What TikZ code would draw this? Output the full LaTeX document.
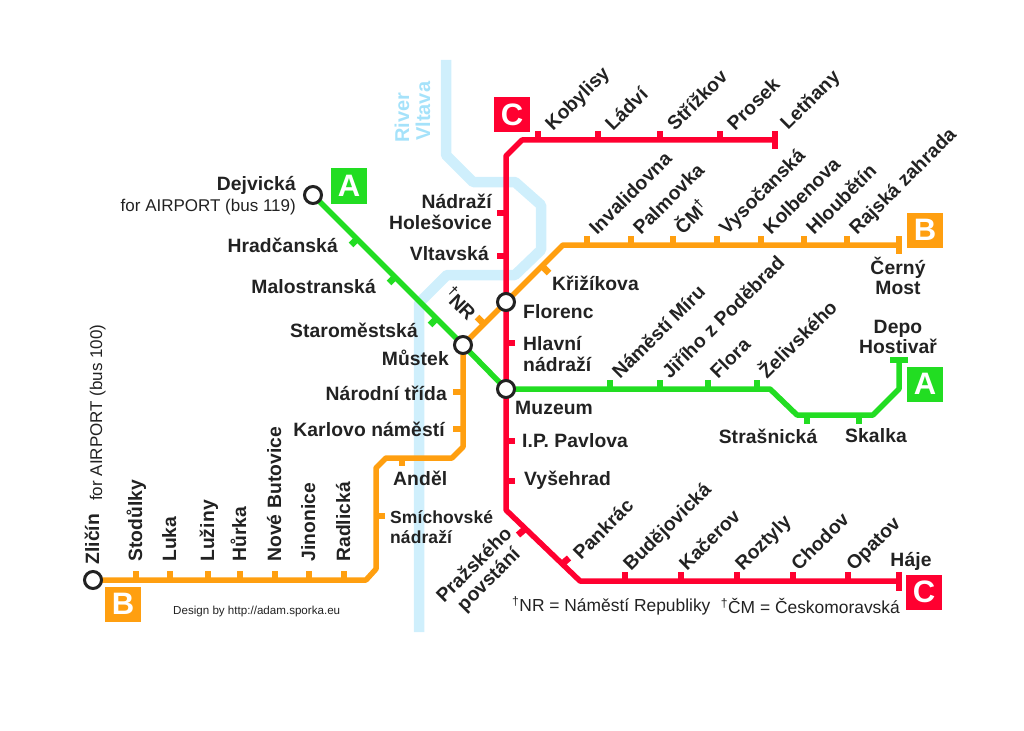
\documentclass[tikz,border=0pt]{standalone}
\usepackage{fontspec}
\setmainfont{Liberation Sans}
\newfontfamily\stnfont[LetterSpace=0.5]{Liberation Sans}
\usepackage{xcolor}
\definecolor{lineA}{HTML}{22DD22}
\definecolor{lineB}{HTML}{FF9F10}
\definecolor{lineC}{HTML}{FF0030}
\definecolor{river}{HTML}{CFEFFC}
\definecolor{rivertext}{HTML}{A5E2FA}
\definecolor{ink}{HTML}{222222}
\tikzset{
  stnlabel/.style={inner sep=0pt, text=ink, font=\fontsize{19.3}{20.5}\selectfont\stnfont\bfseries},
  diaglabel/.style={stnlabel, rotate=45, anchor=base west},
  uplabel/.style={stnlabel, rotate=90, anchor=base west},
  smalllabel/.style={inner sep=0pt, text=ink, font=\fontsize{17}{19}\selectfont},
  notelabel/.style={inner sep=0pt, text=ink, font=\fontsize{17.4}{19}\selectfont},
  rivername/.style={rotate=90, anchor=base west, inner sep=0pt, text=rivertext, font=\fontsize{20}{22}\selectfont\bfseries},
  interchange/.style={draw=ink, line width=3pt, fill=white, circle, minimum size=17pt, inner sep=0pt},
  linebox/.style={minimum width=36pt, minimum height=35pt, inner sep=0pt, text=white, font=\fontsize{31}{31}\selectfont\bfseries},
  trackA/.style={lineA, line width=5.5pt, line join=round},
  trackB/.style={lineB, line width=5.5pt, line join=round},
  trackC/.style={lineC, line width=5.5pt, line join=round},
  stubA/.style={lineA, line width=6.5pt},
  stubB/.style={lineB, line width=6.5pt},
  stubC/.style={lineC, line width=6.5pt},
}
\begin{document}
\begin{tikzpicture}[x=1pt, y=-1pt]
  \useasboundingbox (0,0) rectangle (1024,730);

  % River
  \draw [river, line width=10.5pt, line join=round] (446,60) -- (446,155) -- (473,182) -- (515,182) -- (541,205)
    -- (541,250) -- (515,275) -- (447,275) -- (419,303) -- (419,632);
  \node [rivername] (rivername1) at (409,143) {River};
  \node [rivername] (rivername2) at (430,141) {Vltava};

  % Interchanges and line ends
  \coordinate (zlicin) at (93,580);
  \coordinate (dejvicka) at (313,195);
  \coordinate (mustekc) at (463,345);
  \coordinate (florencc) at (506,302);
  \coordinate (muzeumc) at (506,389);
  \coordinate (letnany) at (775,140);
  \coordinate (haje) at (899,581);
  \coordinate (cernymost) at (899,245);
  \coordinate (depo) at (899,360);

  % Line B
  \coordinate (b1) at (366,580);
  \coordinate (b2) at (376,569);
  \coordinate (b3) at (376,468);
  \coordinate (b4) at (386,458);
  \coordinate (b5) at (452,458);
  \coordinate (b6) at (463,447);
  \coordinate (b7) at (563,245);
  \draw [trackB] (zlicin) -- (b1) -- (b2) -- (b3) -- (b4) -- (b5) -- (b6) -- (mustekc) -- (florencc) -- (b7) -- (cernymost);
  \draw [stubB] (899,236) coordinate (bend1) -- (899,254) coordinate (bend2);

  \foreach \x/\id/\lbl in {136/stodulky/Stodůlky, 170/luka/Luka, 208/luziny/Lužiny, 240/hurka/Hůrka, 275/butovice/Nové Butovice, 309/jinonice/Jinonice, 344/radlicka/Radlická}{
    \coordinate (\id) at (\x,580);
    \draw [stubB] (\id) -- ++(0,-9) coordinate (\id-t);
    \node [uplabel] (\id-l) at (\x+6,562) {\lbl};
  }
  \foreach \x/\id/\lbl in {587/invalidovna/Invalidovna, 631/palmovka/Palmovka, 673/cm/ČM\textsuperscript{†}, 717/vysocanska/Vysočanská, 761/kolbenova/Kolbenova, 804/hloubetin/Hloubětín, 847/rajska/Rajská zahrada}{
    \coordinate (\id) at (\x,245);
    \draw [stubB] (\id) -- ++(0,-9) coordinate (\id-t);
    \node [diaglabel] (\id-l) at (\x+10,236) {\lbl};
  }
  \draw [stubB] (463,392) coordinate (narodni) -- ++(-10,0) coordinate (narodni-t);
  \draw [stubB] (463,429) coordinate (karlovo) -- ++(-10,0) coordinate (karlovo-t);
  \draw [stubB] (402,458) coordinate (andel) -- ++(0,8) coordinate (andel-t);
  \draw [stubB] (376,516) coordinate (smichov) -- ++(9,0) coordinate (smichov-t);
  \draw [stubB] (484,324) coordinate (nr) -- ++(-7,-7) coordinate (nr-t);
  \draw [stubB] (542,266) coordinate (krizikova) -- ++(7,7) coordinate (krizikova-t);

  % Line A
  \coordinate (a1) at (770,389);
  \coordinate (a2) at (797,415);
  \coordinate (a3) at (873,415);
  \coordinate (a4) at (899,389);
  \draw [trackA] (dejvicka) -- (mustekc) -- (muzeumc) -- (a1) -- (a2) -- (a3) -- (a4) -- (depo);
  \draw [stubA] (890,360) coordinate (aend1) -- (908,360) coordinate (aend2);
  \foreach \x/\id/\lbl in {610/miru/Náměstí Míru, 660/jiriho/Jiřího z Poděbrad, 708/flora/Flora, 757/zelivskeho/Želivského}{
    \coordinate (\id) at (\x,389);
    \draw [stubA] (\id) -- ++(0,-9) coordinate (\id-t);
    \node [diaglabel] (\id-l) at (\x+10,380) {\lbl};
  }
  \draw [stubA] (807,415) coordinate (strasnicka) -- ++(0,9) coordinate (strasnicka-t);
  \draw [stubA] (859,415) coordinate (skalka) -- ++(0,9) coordinate (skalka-t);
  \draw [stubA] (357,239) coordinate (hradcanska) -- ++(-6,6) coordinate (hradcanska-t);
  \draw [stubA] (395,277) coordinate (malostranska) -- ++(-6,6) coordinate (malostranska-t);
  \draw [stubA] (436,319) coordinate (staromestska) -- ++(-6,6) coordinate (staromestska-t);

  % Line C
  \coordinate (c1) at (522,140);
  \coordinate (c2) at (506,156);
  \coordinate (c3) at (506,510);
  \coordinate (c4) at (580,581);
  \draw [trackC] (letnany) -- (c1) -- (c2) -- (florencc) -- (muzeumc) -- (c3) -- (c4) -- (haje);
  \draw [stubC] (775,131) coordinate (cend1) -- (775,149) coordinate (cend2);
  \draw [stubC] (899,572) coordinate (cend3) -- (899,591) coordinate (cend4);
  \foreach \x/\id/\lbl in {538/kobylisy/Kobylisy, 598/ladvi/Ládví, 660/strizkov/Střížkov, 720/prosek/Prosek}{
    \coordinate (\id) at (\x,140);
    \draw [stubC] (\id) -- ++(0,-9) coordinate (\id-t);
    \node [diaglabel] (\id-l) at (\x+15,132) {\lbl};
  }
  \node [diaglabel] (letnany-l) at (788,131) {Letňany};
  \foreach \x/\id/\lbl in {625/budejovicka/Budějovická, 681/kacerov/Kačerov, 737/roztyly/Roztyly, 793/chodov/Chodov, 848/opatov/Opatov}{
    \coordinate (\id) at (\x,581);
    \draw [stubC] (\id) -- ++(0,-9) coordinate (\id-t);
    \node [diaglabel] (\id-l) at (\x+6,572) {\lbl};
  }
  \draw [stubC] (506,213) coordinate (holesovice) -- ++(-9,0) coordinate (holesovice-t);
  \draw [stubC] (506,256) coordinate (vltavska) -- ++(-9,0) coordinate (vltavska-t);
  \draw [stubC] (506,343) coordinate (hlavni) -- ++(9,0) coordinate (hlavni-t);
  \draw [stubC] (506,441) coordinate (pavlova) -- ++(9,0) coordinate (pavlova-t);
  \draw [stubC] (506,481) coordinate (vysehrad) -- ++(9,0) coordinate (vysehrad-t);
  \draw [stubC] (525,529) coordinate (povstani) -- ++(-7,6) coordinate (povstani-t);
  \draw [stubC] (562,564) coordinate (pankrac) -- ++(7,-6) coordinate (pankrac-t);

  % Interchange circles
  \node [interchange] (zlicinc) at (zlicin) {};
  \node [interchange] (dejvickac) at (dejvicka) {};
  \node [interchange] (mustek) at (mustekc) {};
  \node [interchange] (florenc) at (florencc) {};
  \node [interchange] (muzeum) at (muzeumc) {};

  % Line boxes
  \node [linebox, fill=lineA] (boxa1) at (349,186) {A};
  \node [linebox, fill=lineC] (boxc1) at (512,115) {C};
  \node [linebox, fill=lineB] (boxb1) at (925,230) {B};
  \node [linebox, fill=lineA] (boxa2) at (925,384) {A};
  \node [linebox, fill=lineC] (boxc2) at (924,592) {C};
  \node [linebox, fill=lineB] (boxb2) at (123,604) {B};

  % Horizontal labels
  \node [stnlabel, anchor=east] (dejvicka-l) at (296,185) {Dejvická};
  \node [smalllabel, anchor=east] (airport1) at (296,207) {for AIRPORT (bus 119)};
  \node [stnlabel, anchor=east] (hradcanska-l) at (338,245) {Hradčanská};
  \node [stnlabel, anchor=east] (malostranska-l) at (376,287) {Malostranská};
  \node [stnlabel, anchor=east] (staromestska-l) at (418,330) {Staroměstská};
  \node [stnlabel, anchor=east] (mustek-l) at (449,358) {Můstek};
  \node [stnlabel, anchor=east] (narodni-l) at (447,393) {Národní třída};
  \node [stnlabel, anchor=east] (karlovo-l) at (445,429) {Karlovo náměstí};
  \node [stnlabel, anchor=west] (andel-l) at (393,478) {Anděl};
  \node [stnlabel, anchor=west, align=left, font=\fontsize{17.5}{20}\selectfont\stnfont\bfseries] (smichov-l) at (390,527) {Smíchovské\\nádraží};
  \node [stnlabel, anchor=east, align=right] (holesovice-l) at (492,212) {Nádraží\\Holešovice};
  \node [stnlabel, anchor=east] (vltavska-l) at (489,254) {Vltavská};
  \node [stnlabel, anchor=west] (krizikova-l) at (552,283) {Křižíkova};
  \node [stnlabel, anchor=west] (florenc-l) at (523,312) {Florenc};
  \node [stnlabel, anchor=west, align=left] (hlavni-l) at (523,354) {Hlavní\\nádraží};
  \node [stnlabel, anchor=west] (muzeum-l) at (515,408) {Muzeum};
  \node [stnlabel, anchor=west] (pavlova-l) at (522,441) {I.P. Pavlova};
  \node [stnlabel, anchor=west] (vysehrad-l) at (524,480) {Vyšehrad};
  \node [stnlabel, align=center] (cernymost-l) at (898,276) {Černý\\Most};
  \node [stnlabel, align=center] (depo-l) at (898,337) {Depo\\Hostivař};
  \node [stnlabel] (strasnicka-l) at (768,436) {Strašnická};
  \node [stnlabel] (skalka-l) at (876,436) {Skalka};
  \node [stnlabel] (haje-l) at (911,561) {Háje};

  % Rotated labels
  \node [stnlabel, rotate=-45] (nr-l) at (461,303) {\textsuperscript{†}NR};
  \node [stnlabel, rotate=45, align=center] (povstani-l) at (482,573) {Pražského\\povstání};
  \node [diaglabel] (pankrac-l) at (581,561) {Pankrác};
  \node [uplabel] (zlicin-l) at (99,565) {Zličín};
  \node [smalllabel, rotate=90, anchor=base west] (airport2) at (102,501) {for AIRPORT (bus 100)};

  % Notes
  \node [notelabel, anchor=west] (note1) at (512,606) {\textsuperscript{†}NR = Náměstí Republiky};
  \node [notelabel, anchor=east] (note2) at (900,606) {\textsuperscript{†}ČM = Českomoravská};
  \node [inner sep=0pt, anchor=west, text=ink, font=\fontsize{11.6}{13}\selectfont] (credit) at (173,611) {Design by http://adam.sporka.eu};
\end{tikzpicture}
\end{document}
